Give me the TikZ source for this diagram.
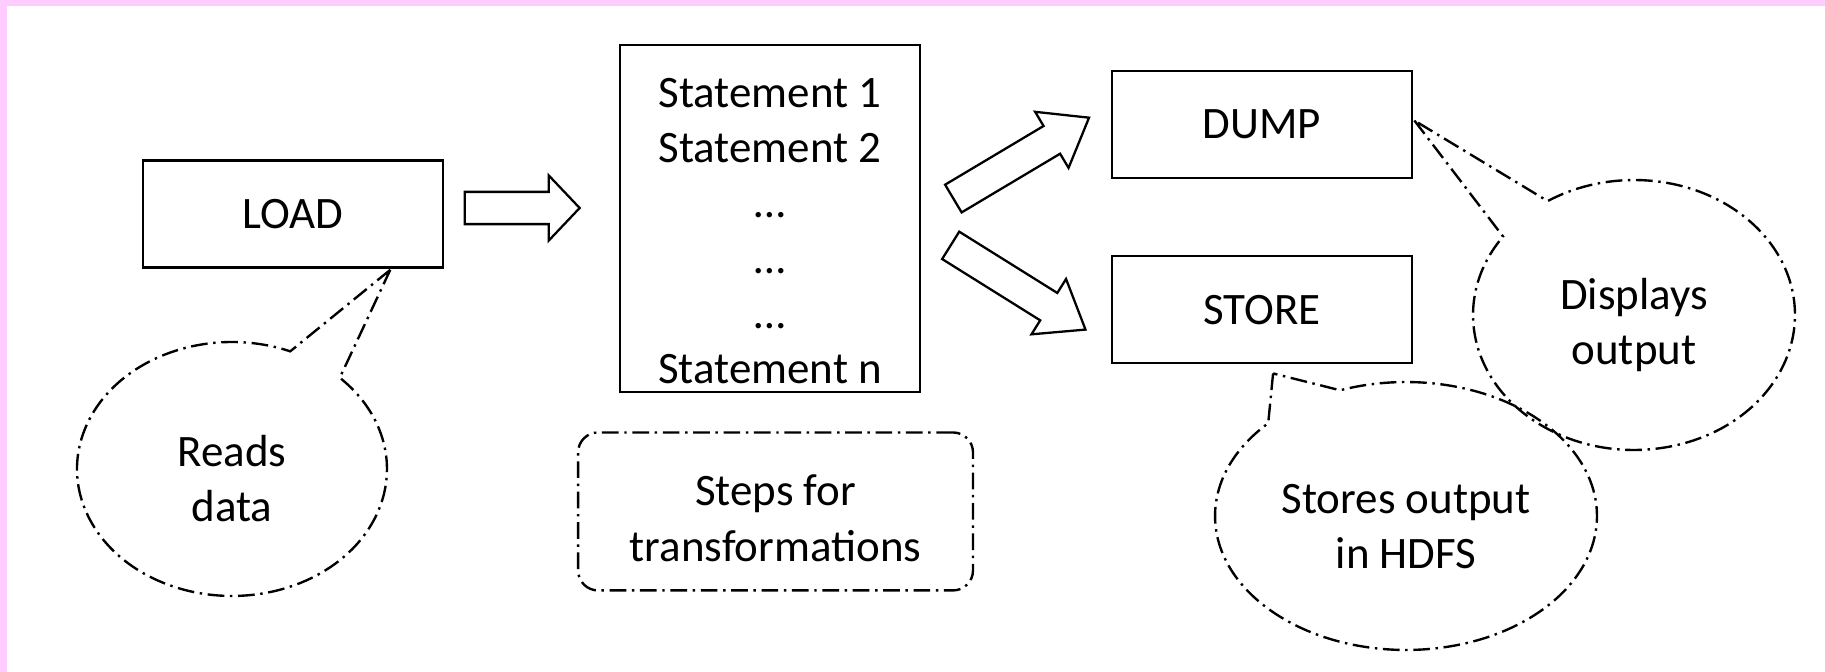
\documentclass[tikz,border=0pt]{standalone}
\usepackage{fontspec}
\setmainfont{Carlito}
\usepackage{tikz}
\usetikzlibrary{shapes,arrows}
\usetikzlibrary{calc}
\usetikzlibrary{positioning}

\definecolor{framepink}{RGB}{255,204,255}

\begin{document}
\begin{tikzpicture}[x=0.02cm, y=-0.02cm,
    every node/.style={font=\fontsize{25.6}{31.5}\selectfont},
    opbox/.style={draw, line width=1.5pt, minimum width=6cm, minimum height=2.14cm},
    fatarrow/.style={single arrow, draw, line width=1.3pt, inner xsep=0pt, inner ysep=0.3cm,
        single arrow head extend=0.33cm},
    dashdot/.style={line width=1.35pt, dash pattern=on 9.5pt off 3.2pt on 1.4pt off 3.2pt},
    bubble/.style={ellipse callout, draw, dashdot, callout pointer arc=22,
        align=center, text height=2.12cm, inner sep=0pt},
    notebox/.style={draw, dashdot, rounded corners=0.4cm, minimum width=7.9cm,
        minimum height=3.16cm, align=center, text height=2.0cm, inner sep=2pt}]
    \useasboundingbox (0,0) rectangle (1825,672);
    \fill[framepink] (0,0) rectangle (1825,672);
    \fill[white] (7,6) rectangle (1825,672);

    % Pipeline boxes
    \node[opbox] (load) at (293,214) {LOAD};
    \node[opbox, minimum height=6.94cm, text height=6.62cm, inner sep=2pt, align=center]
        (stmts) [right=3.49cm of load, yshift=-0.09cm]
        {Statement 1\\Statement 2\\…\\…\\…\\Statement n};
    \node[opbox] (dump) [right=3.79cm of stmts, yshift=1.88cm] {DUMP};
    \node[opbox] (store) [below=1.51cm of dump] {STORE};
    \node[notebox] (steps) [below=0.76cm of stmts, xshift=0.11cm] {Steps for\\transformations};

    % Block arrows between the boxes
    \node[fatarrow, minimum height=2.3cm, single arrow tip angle=93] (toStmts) at (514.5,208) {};
    \node[fatarrow, minimum height=3.16cm, single arrow tip angle=74, rotate=30.8] (toDump) at (1012,163.6) {};
    \node[fatarrow, minimum height=3.18cm, single arrow tip angle=74, rotate=-32] (toStore) at (1009,281.8) {};

    % Callouts
    \node[bubble, minimum width=6.2cm, minimum height=5.08cm,
        callout absolute pointer={($(load.south east)+(-54,1)$)}] (reads) at (232,469) {Reads\\data};
    \node[bubble, minimum width=6.44cm, minimum height=5.4cm,
        callout absolute pointer={($(dump.east)+(1,-4)$)}] (shows) at (1634,315) {Displays\\output};
    \node[bubble, minimum width=7.64cm, minimum height=5.36cm, callout pointer arc=26,
        callout absolute pointer={($(store.south)+(11,9)$)}] (keeps) at (1406,516) {Stores output\\in HDFS};
\end{tikzpicture}
\end{document}
